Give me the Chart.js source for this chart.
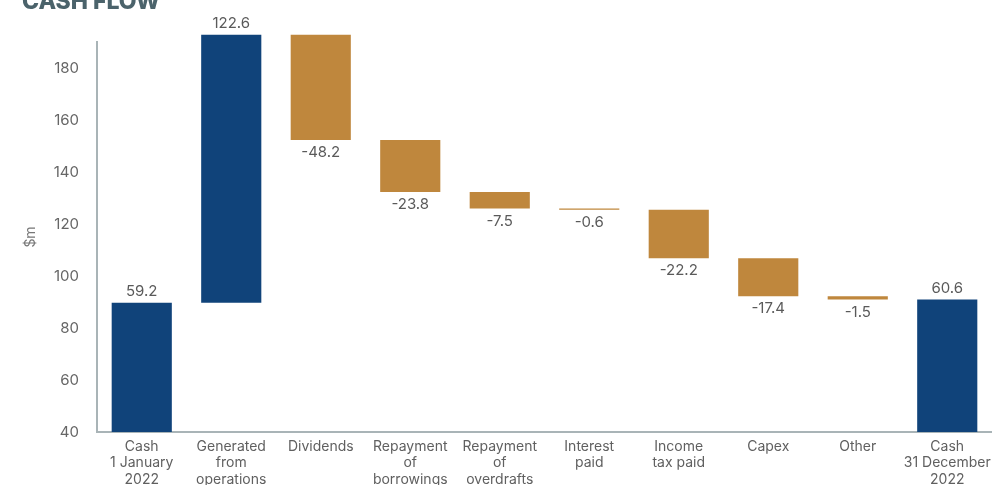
<!DOCTYPE html>
<html>
<head>
<meta charset="utf-8">
<script src="https://cdn.jsdelivr.net/npm/chart.js@4"></script>
<style>
  html, body { margin: 0; padding: 0; background: #fff; overflow: hidden; }
  #wrap { position: relative; width: 992px; height: 485px; overflow: hidden; }
  #cashFlow { position: absolute; left: 0; top: 0; }
  #title {
    position: absolute; left: 22px; top: -10px;
    font: 800 23px/23px Inter, sans-serif; color: #4b636b;
  }
</style>
</head>
<body>
<div id="wrap">
  <canvas id="cashFlow" width="992" height="500"></canvas>
  <div id="title">CASH FLOW</div>
</div>
<script>
const categories = [
  ['Cash', '1 January', '2022'],
  ['Generated', 'from', 'operations'],
  ['Dividends'],
  ['Repayment', 'of', 'borrowings'],
  ['Repayment', 'of', 'overdrafts'],
  ['Interest', 'paid'],
  ['Income', 'tax paid'],
  ['Capex'],
  ['Other'],
  ['Cash', '31 December', '2022']
];
const values = [59.2, 122.6, -48.2, -23.8, -7.5, -0.6, -22.2, -17.4, -1.5, 60.6];
const isTotal = [true, false, false, false, false, false, false, false, false, true];
const yTicks = [40, 60, 80, 100, 120, 140, 160, 180];

const NAVY = '#10437a';
const GOLD = '#bf873d';

// running balance -> floating [start, end] bars
let running = 0;
const ranges = values.map((v, i) => {
  if (isTotal[i]) { running = v; return [0, v]; }
  const start = running;
  running += v;
  return [start, running];
});

// value text above totals / increases, below decreases
const valueLabels = {
  id: 'valueLabels',
  afterDatasetsDraw(chart) {
    const ctx = chart.ctx;
    const meta = chart.getDatasetMeta(0);
    ctx.save();
    ctx.font = '15px Inter, sans-serif';
    ctx.fillStyle = '#5a5a5a';
    ctx.textAlign = 'center';
    meta.data.forEach((bar, i) => {
      const v = values[i];
      const top = Math.min(bar.y, bar.base);
      const bottom = Math.max(bar.y, bar.base);
      if (v >= 0) {
        ctx.textBaseline = 'bottom';
        ctx.fillText(v.toFixed(1), bar.x, top - 4);
      } else {
        ctx.textBaseline = 'top';
        ctx.fillText(v.toFixed(1), bar.x, bottom + 5);
      }
    });
    ctx.restore();
  }
};

new Chart(document.getElementById('cashFlow'), {
  type: 'bar',
  data: {
    labels: categories,
    datasets: [{
      data: ranges,
      backgroundColor: values.map((v, i) => isTotal[i] || v > 0 ? NAVY : GOLD),
      yAxisID: 'y2',
      categoryPercentage: 1,
      barPercentage: 0.672,
      clip: false
    }]
  },
  options: {
    responsive: false,
    animation: false,
    layout: { padding: { top: 42, right: 0, bottom: 0, left: 0 } },
    plugins: { legend: { display: false }, tooltip: { enabled: false } },
    scales: {
      x: {
        grid: { display: false, drawTicks: false },
        border: { color: '#a9b4b7', width: 2 },
        ticks: {
          color: '#606060', font: { family: 'Inter', size: 14 },
          padding: 6, maxRotation: 0, autoSkip: false
        },
        afterFit(scale) { scale.paddingLeft = 0; scale.paddingRight = 0; scale.height = 68; }
      },
      y: {
        position: 'left', min: 40, max: 190,
        grid: { display: false, drawTicks: false },
        border: { color: '#a9b4b7', width: 2 },
        ticks: { color: '#666', font: { family: 'Inter', size: 15 }, padding: 18 },
        afterBuildTicks(scale) { scale.ticks = yTicks.map(v => ({ value: v })); },
        title: {
          display: true, text: '$m', color: '#777',
          font: { family: 'Inter', size: 14 }, padding: { top: 22, bottom: 0 }
        },
        afterFit(scale) { scale.width = 97; }
      },
      y2: { display: false, min: 0, max: 178.5 }
    }
  },
  plugins: [valueLabels]
});
</script>
</body>
</html>
